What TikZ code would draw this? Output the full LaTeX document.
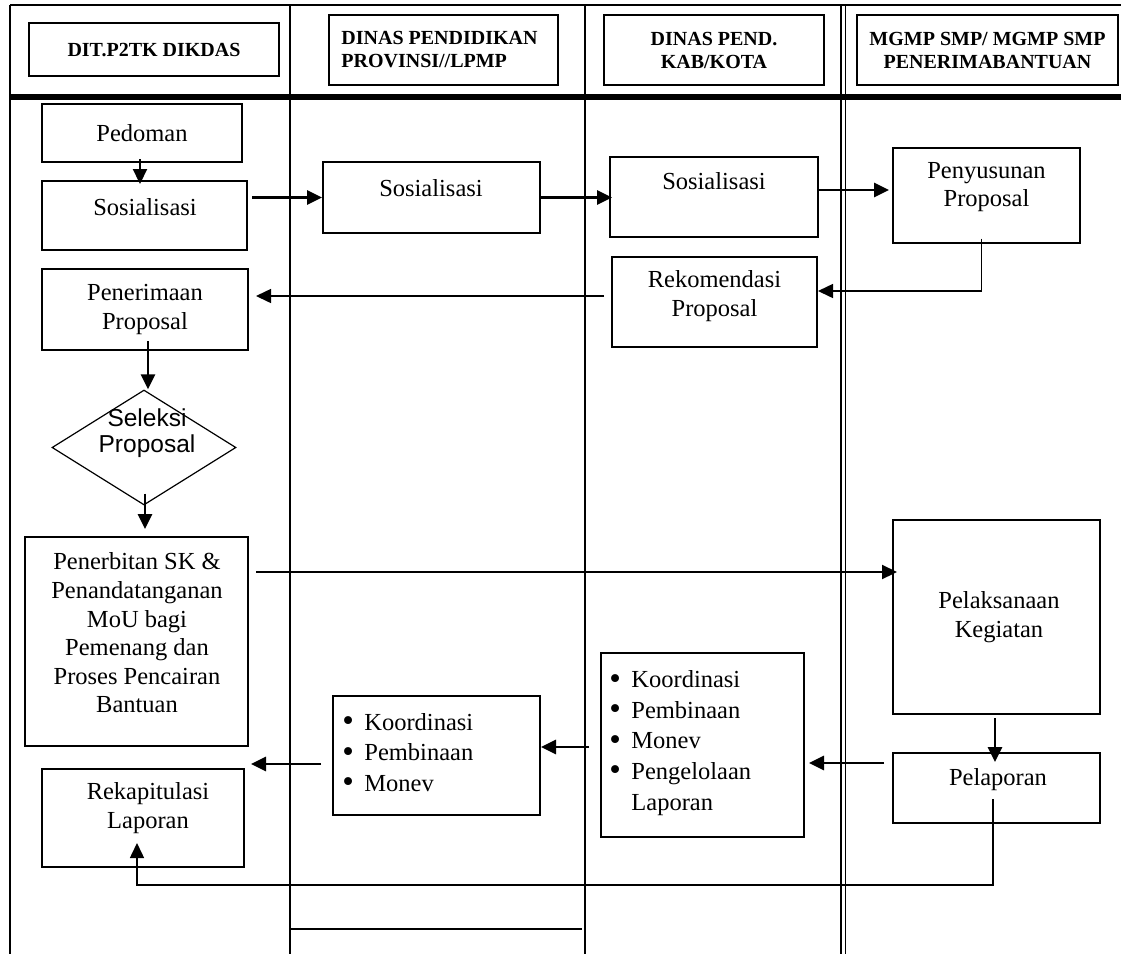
\documentclass[tikz,border=0pt]{standalone}
\usepackage{fontspec}
\usepackage{graphicx}
\setmainfont{Liberation Serif}
\newfontfamily\arialf{Liberation Sans}
\usetikzlibrary{arrows.meta,shapes.geometric,calc}
\newcommand{\mybul}{\makebox[11pt][l]{\raisebox{-0.7pt}{\scalebox{1.35}{\textbullet}}}}
\begin{document}
\begin{tikzpicture}[x=0.5pt,y=-0.5pt,
  frame/.style={line width=0.8pt},
  box/.style={draw, line width=1pt, inner sep=0pt},
  txt/.style={font=\fontsize{12.25}{14.3}\selectfont, align=center, inner sep=0pt},
  lst/.style={font=\fontsize{12.25}{15.3}\selectfont, align=left, inner sep=0pt},
  hd/.style={font=\fontsize{10}{11.5}\selectfont\bfseries, align=center, inner sep=0pt},
  tipA/.style={-{Triangle[length=7.5pt,width=7pt]}},
  arr/.style={tipA, line width=1.35pt},
  arrmid/.style={tipA, line width=1.1pt},
  arrthin/.style={tipA, line width=0.75pt},
]
\useasboundingbox (0,0) rectangle (1121,954);

% frame and lanes
\draw[frame] (10,5) -- (1121,5);
\draw[frame] (10,5) -- (10,954);
\draw[frame] (290,5) -- (290,954);
\draw[frame] (585,5) -- (585,954);
\draw[frame] (841,5) -- (841,954);
\draw[frame] (845.5,5) -- (845.5,954);
\draw[line width=3pt] (10,97) -- (1121,97);
\draw[frame] (290,929) -- (582,929);

% headers
\node[box, minimum width=125pt, minimum height=26.5pt] (h1) at (154,49.5) {};
\node[hd] (h1t) at (154,50) {DIT.P2TK DIKDAS};
\node[box, minimum width=114.5pt, minimum height=35pt] (h2) at (443.5,50) {};
\node[hd, align=left, anchor=west] (h2t) at (341,50) {DINAS PENDIDIKAN\\PROVINSI//LPMP};
\node[box, minimum width=110pt, minimum height=35pt] (h3) at (714,50) {};
\node[hd] (h3t) at (714,50) {DINAS PEND.\\KAB/KOTA};
\node[box, minimum width=130.5pt, minimum height=35pt] (h4) at (987.5,50) {};
\node[hd] (h4t) at (987.5,50) {MGMP SMP/ MGMP SMP\\PENERIMABANTUAN};

% boxes
\node[box, txt, minimum width=100pt, minimum height=29pt] (pedoman) at (142,133) {Pedoman};
\node[box, minimum width=102.5pt, minimum height=34.5pt] (sos1) at (144.5,215.5) {};
\node[txt] (sos1t) at (145,207) {Sosialisasi};
\node[box, minimum width=108.5pt, minimum height=35.5pt] (sos2) at (431.5,197.5) {};
\node[txt] (sos2t) at (431,188) {Sosialisasi};
\node[box, minimum width=104pt, minimum height=40pt] (sos3) at (714,197) {};
\node[txt] (sos3t) at (714,181) {Sosialisasi};
\node[box, minimum width=93.5pt, minimum height=47.5pt] (peny) at (986.5,195) {};
\node[txt] (penyt) at (986.5,187) {Penyusunan\\Proposal};
\node[box, minimum width=102.5pt, minimum height=45pt] (reko) at (714.5,302) {};
\node[txt] (rekot) at (714.5,296) {Rekomendasi\\Proposal};
\node[box, txt, minimum width=103pt, minimum height=40.5pt] (pen) at (145,309.5) {Penerimaan\\Proposal};
\node[draw, shape=diamond, line width=0.6pt, inner sep=0pt, minimum width=92pt, minimum height=57.5pt] (dia) at (144,447.5) {};
\node[font=\arialf\fontsize{12.25}{13}\selectfont, align=center, inner sep=0pt] (diat) at (147,433) {Seleksi\\Proposal};
\node[box, minimum width=111.5pt, minimum height=104.5pt] (penerb) at (136.5,641.5) {};
\node[txt] (penerbt) at (137,633) {Penerbitan SK \&\\Penandatanganan\\MoU bagi\\Pemenang dan\\Proses Pencairan\\Bantuan};
\node[box, minimum width=103.5pt, minimum height=97pt] (pelak) at (996.5,617) {};
\node[txt] (pelakt) at (999,617) {Pelaksanaan\\Kegiatan};
\node[box, minimum width=103.5pt, minimum height=35pt] (pelap) at (996.5,788) {};
\node[txt] (pelapt) at (998,780) {Pelaporan};
\node[box, minimum width=101.5pt, minimum height=92pt] (kab) at (702.5,745) {};
\node[lst, anchor=west] (kabt) at (609,743) {\mybul Koordinasi\\\mybul Pembinaan\\\mybul Monev\\\mybul Pengelolaan\\\hspace*{11pt}Laporan};
\node[box, minimum width=103.5pt, minimum height=59.5pt] (prov) at (436.5,755.5) {};
\node[lst, anchor=west] (provt) at (342,753) {\mybul Koordinasi\\\mybul Pembinaan\\\mybul Monev};
\node[box, minimum width=101pt, minimum height=49pt] (rekap) at (143,818) {};
\node[txt] (rekapt) at (148,808) {Rekapitulasi\\Laporan};

% connectors
\draw[arrmid] ($(pedoman.south)+(-2,-4)$) -- ($(sos1.north)+(-4.5,4)$);
\draw[arr] ($(sos1.east |- sos2.west)+(4,0)$) -- (sos2.west);
\draw[arr] (sos2.east) -- ($(sos3.west |- sos2.east)+(3,0)$);
\draw[arr] (sos3.east |- 0,190) -- ($(peny.west |- 0,190)+(-3,0)$);
\draw[arrthin] ($(peny.south)+(-5,-5)$) |- (reko.east |- 0,291);
\draw[arrthin] ($(reko.west |- 0,296)+(-7,0)$) -- ($(pen.east |- 0,296)+(7,0)$);
\draw[arr] ($(pen.south)+(3,-10)$) -- ($(dia.north)+(4,0)$);
\draw[arr] ($(dia.south)+(1,-12)$) -- ($(penerb.north)+(8.5,-7)$);
\draw[arrmid] ($(penerb.east |- 0,572)+(7,0)$) -- ($(pelak.west |- 0,572)+(5,0)$);
\draw[arr] ($(pelak.south)+(-1.5,3)$) -- ($(pelap.north)+(-1.5,10)$);
\draw[arr] ($(pelap.west |- 0,763)+(-8,0)$) -- ($(kab.east |- 0,763)+(4,0)$);
\draw[arr] ($(kab.west |- 0,747)+(-11,0)$) -- (prov.east |- 0,747);
\draw[arr] ($(prov.west |- 0,764)+(-11,0)$) -- ($(rekap.east |- 0,764)+(6,0)$);
\draw[arrthin] ($(pelap.south)+(-3.5,-25)$) |- ($(rekap.south)+(-6,17)$) -- ($(rekap.south)+(-6,-25)$);
\end{tikzpicture}
\end{document}
